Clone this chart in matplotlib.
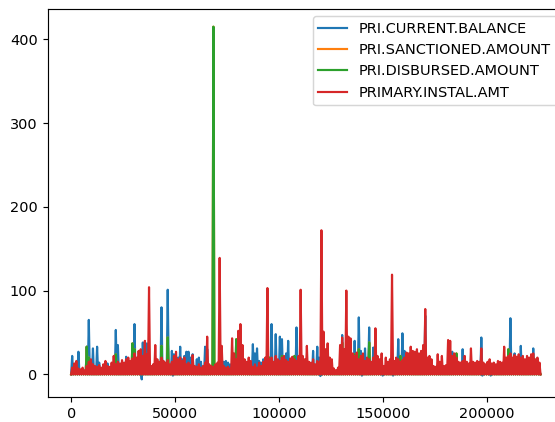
import numpy as np
import matplotlib.pyplot as plt

# index is in steps of 1000 rows; one peak value per step, troughs sit at ~0
step = 1000

red_peaks = [
    8, 13, 16, 7, 6, 8, 5, 10, 15, 18, 12, 10, 9, 11, 8, 12, 16, 10, 9, 14,
    22, 12, 15, 13, 17, 14, 18, 20, 16, 19, 25, 20, 28, 30, 22, 40, 24, 104, 10, 12,
    35, 18, 15, 20, 16, 14, 17, 12, 15, 22, 27, 18, 20, 16, 20, 12, 14, 11, 23, 10,
    9, 12, 8, 10, 14, 45, 12, 10, 9, 12, 14, 139, 34, 10, 8, 9, 7, 43, 25, 18,
    52, 60, 35, 18, 15, 20, 16, 9, 12, 8, 14, 10, 15, 20, 103, 18, 20, 15, 22, 18,
    16, 20, 22, 17, 15, 19, 21, 18, 16, 22, 101, 22, 18, 34, 15, 14, 18, 12, 16, 15,
    172, 51, 30, 37, 20, 18, 7, 5, 8, 35, 44, 30, 100, 45, 43, 25, 22, 26, 18, 22,
    25, 16, 20, 18, 15, 20, 55, 22, 18, 25, 10, 20, 15, 18, 119, 16, 20, 18, 15, 17,
    20, 26, 25, 33, 28, 27, 30, 25, 28, 35, 78, 20, 22, 18, 10, 9, 24, 15, 22, 10,
    11, 41, 40, 22, 25, 20, 15, 14, 16, 22, 15, 13, 31, 15, 14, 16, 15, 31, 14, 12,
    15, 18, 13, 14, 12, 16, 15, 14, 33, 20, 22, 25, 20, 23, 21, 24, 20, 22, 18, 22,
    20, 24, 25, 18, 20, 14,
]

# blue: low where hidden under red, spikes where it shows
blue_spike_idx = [0, 3, 7, 8, 10, 12, 13, 17, 21, 22, 26, 30, 34, 36, 43, 46, 48, 49, 50, 51,
                  52, 53, 54, 55, 56, 57, 58, 60, 61, 62, 64, 65, 73, 74, 75, 76, 85, 87, 88, 89,
                  90, 91, 92, 96, 98, 100, 101, 103, 104, 106, 108, 116, 118, 119, 130, 136, 138, 139,
                  141, 143, 145, 157, 159, 160, 170, 183, 185, 188, 197, 211, 213, 216, 222]
blue_spike_val = [22, 27, 33, 65, 31, 33, 14, 13, 53, 35, 21, 60, 38, 37, 80, 101, 28, 24, 12, 20,
                  33, 18, 22, 27, 27, 20, 24, 18, 20, 15, 33, 30, 15, 16, 14, 12, 15, 36, 25, 31,
                  16, 14, 18, 60, 48, 45, 42, 25, 40, 20, 56, 28, 33, 20, 47, 40, 68, 28,
                  31, 56, 32, 42, 49, 28, 70, 27, 24, 30, 44, 67, 25, 34, 31]
blue_base = 4
blue_dip_idx = [34, 49, 120, 140, 150, 155, 198, 202]
blue_dip_val = [-6, -1.5, -2, -1.5, -1.5, -1.5, -1.5, -1.5]

green_spike_idx = [7, 8, 21, 29, 30, 43, 46, 68, 79, 80, 95, 101, 107, 130, 136, 138, 143, 158,
                   185, 210, 211, 222]
green_spike_val = [33, 20, 24, 37, 30, 34, 44, 415, 42, 30, 20, 22, 22, 38, 24, 30, 38, 22,
                   25, 30, 20, 20]
green_base = 3

n = len(red_peaks)

blue_peaks = [blue_base] * n
for i, v in zip(blue_spike_idx, blue_spike_val):
    blue_peaks[i] = v
green_peaks = [green_base] * n
for i, v in zip(green_spike_idx, green_spike_val):
    green_peaks[i] = v
sanctioned_peaks = list(green_peaks)  # sits under the disbursed line


def zigzag(peaks, dip_idx=(), dip_val=()):
    lows = [0.0] * (len(peaks) + 1)
    for i, v in zip(dip_idx, dip_val):
        lows[i] = v
    x, y = [], []
    for i, p in enumerate(peaks):
        x += [i * step, i * step + step / 2]
        y += [lows[i], p]
    x.append(len(peaks) * step)
    y.append(lows[-1])
    return np.array(x), np.array(y)


fig = plt.figure(figsize=(555 / 104, 422 / 104), dpi=104)
ax = fig.add_axes([0.0859, 0.0592, 0.9303, 0.9194])

xb, yb = zigzag(blue_peaks, blue_dip_idx, blue_dip_val)
ax.plot(xb, yb, label="PRI.CURRENT.BALANCE")
xs, ys = zigzag(sanctioned_peaks)
ax.plot(xs, ys, label="PRI.SANCTIONED.AMOUNT")
xg, yg = zigzag(green_peaks)
ax.plot(xg, yg, label="PRI.DISBURSED.AMOUNT")
xr, yr = zigzag(red_peaks)
ax.plot(xr, yr, label="PRIMARY.INSTAL.AMT")

ax.legend(loc="upper right")

fig.savefig("out.png", dpi=104)
